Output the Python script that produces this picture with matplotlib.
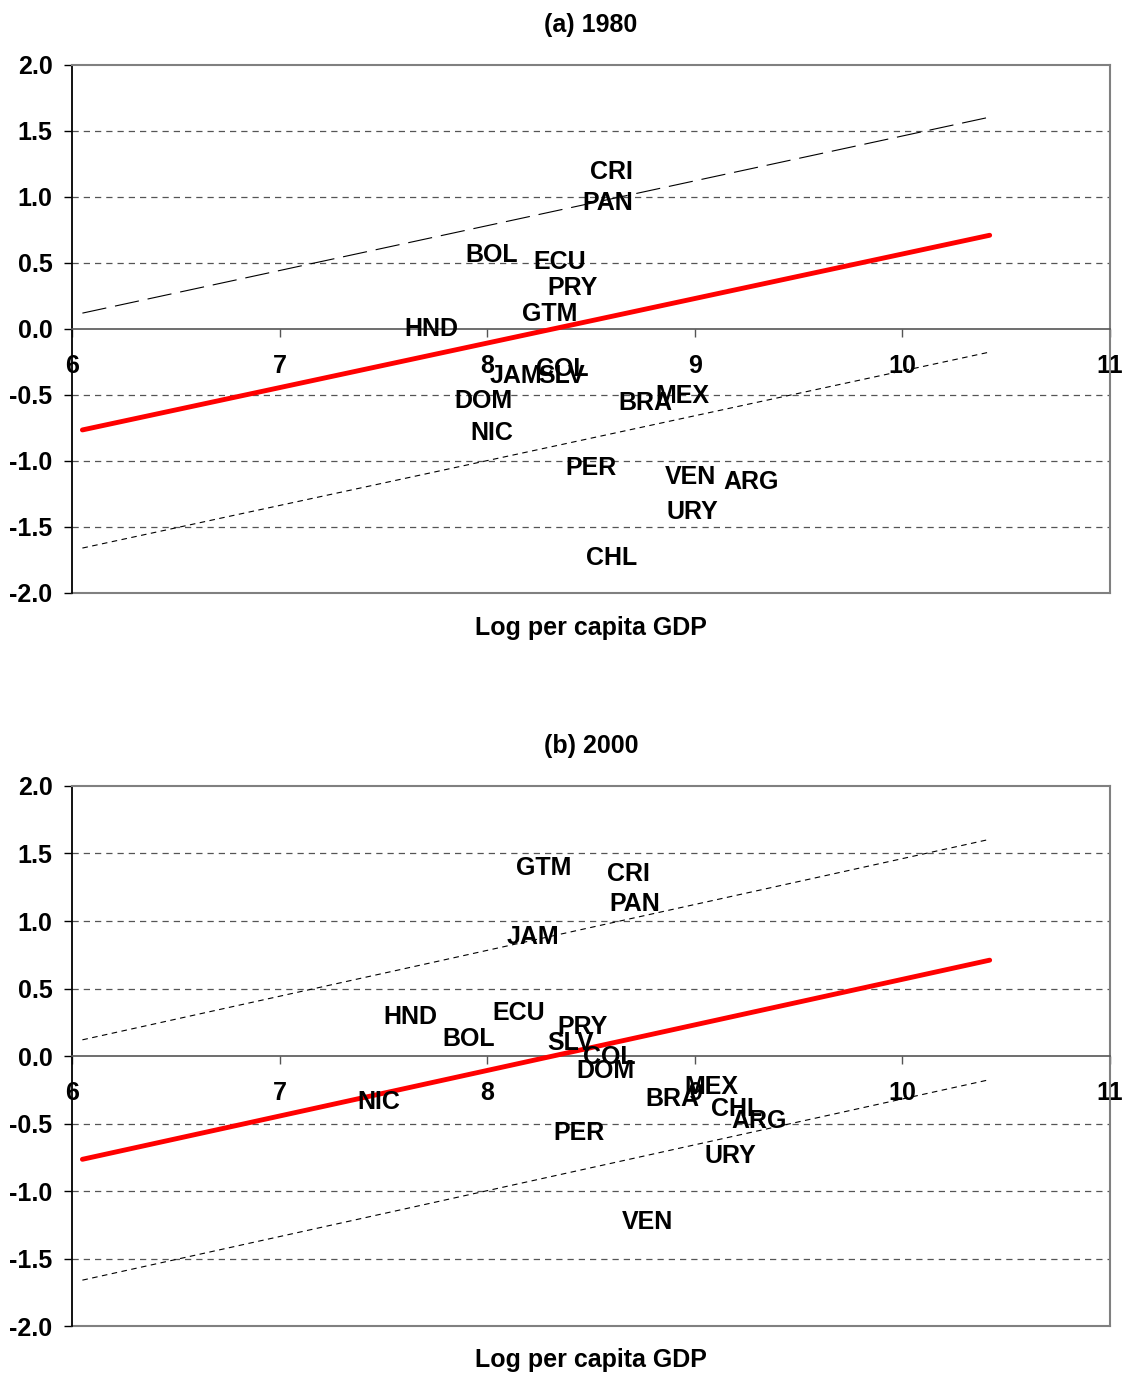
import matplotlib.pyplot as plt
from matplotlib.patches import Rectangle

plt.rcParams['font.family'] = ['Liberation Sans', 'DejaVu Sans']
plt.rcParams['font.weight'] = 'bold'

# Fitted line and bands (same in both panels)
x_fit = [6.05, 10.42]
fit = [-0.765, 0.71]
upper = [0.12, 1.605]
lower = [-1.66, -0.175]

# Panel (a) 1980
codes_1980 = ['CRI', 'PAN', 'BOL', 'ECU', 'PRY', 'GTM', 'HND', 'JAM', 'COL', 'SLV',
              'DOM', 'NIC', 'BRA', 'MEX', 'PER', 'VEN', 'ARG', 'URY', 'CHL']
gdp_1980 = [8.60, 8.58, 8.02, 8.35, 8.41, 8.30, 7.73, 8.14, 8.36, 8.36,
            7.98, 8.02, 8.76, 8.94, 8.50, 8.98, 9.27, 8.99, 8.60]
val_1980 = [1.19, 0.955, 0.56, 0.51, 0.31, 0.11, 0.0, -0.36, -0.30, -0.36,
            -0.545, -0.79, -0.56, -0.51, -1.05, -1.12, -1.16, -1.39, -1.735]

# Panel (b) 2000
codes_2000 = ['GTM', 'CRI', 'PAN', 'JAM', 'HND', 'ECU', 'BOL', 'PRY', 'SLV', 'COL',
              'DOM', 'NIC', 'BRA', 'MEX', 'CHL', 'ARG', 'PER', 'URY', 'VEN']
gdp_2000 = [8.27, 8.68, 8.71, 8.22, 7.63, 8.15, 7.91, 8.46, 8.40, 8.59,
            8.57, 7.48, 8.89, 9.08, 9.20, 9.31, 8.44, 9.17, 8.77]
val_2000 = [1.39, 1.35, 1.125, 0.88, 0.29, 0.32, 0.125, 0.215, 0.10, -0.01,
            -0.11, -0.34, -0.32, -0.23, -0.39, -0.48, -0.57, -0.74, -1.23]

fig = plt.figure(figsize=(11.27, 13.77), dpi=100)
ax_a = fig.add_axes([0.0639, 0.5694, 0.9211, 0.3834])
ax_b = fig.add_axes([0.0639, 0.0370, 0.9211, 0.3922])


def draw_panel(ax, codes, gdp, vals, title, upper_dash):
    ax.set_xlim(6, 11)
    ax.set_ylim(-2, 2)
    ax.set_yticks([-2.0, -1.5, -1.0, -0.5, 0.0, 0.5, 1.0, 1.5, 2.0])
    ax.set_yticklabels([f'{v:.1f}' for v in ax.get_yticks()])
    ax.set_xticks([6, 7, 8, 9, 10, 11])

    # dashed gridlines
    for yv in [-1.5, -1.0, -0.5, 0.5, 1.0, 1.5]:
        ax.axhline(yv, color='#555555', lw=0.9, dashes=(5, 4), zorder=1)

    # frame
    for s in ['top', 'right']:
        ax.spines[s].set_color('#808080')
        ax.spines[s].set_linewidth(1.5)
    ax.spines['left'].set_color('black')
    ax.spines['left'].set_linewidth(1.3)
    ax.spines['bottom'].set_position(('data', 0))
    ax.spines['bottom'].set_color('#555555')
    ax.spines['bottom'].set_linewidth(1.2)
    ax.plot([6, 11], [-2, -2], color='#808080', lw=1.5, clip_on=False, zorder=2)

    ax.tick_params(axis='x', direction='out', length=6, width=1, color='#555555',
                   pad=12, labelsize=18)
    ax.tick_params(axis='y', direction='out', length=6, width=1, color='black',
                   pad=8, labelsize=18)
    for lab in ax.get_xticklabels() + ax.get_yticklabels():
        lab.set_fontweight('bold')

    ax.plot(x_fit, upper, color='black', lw=0.8, dashes=upper_dash, zorder=3)
    ax.plot(x_fit, lower, color='black', lw=0.8, dashes=(5, 4), zorder=3)
    ax.plot(x_fit, fit, color='red', lw=3.5, solid_capstyle='round', zorder=4)

    for c, xv, yv in zip(codes, gdp, vals):
        ax.text(xv, yv, c, ha='center', va='center', fontsize=18,
                fontweight='bold', zorder=5)

    ax.set_title(title, fontsize=18, fontweight='bold', pad=24)
    ax.set_xlabel('Log per capita GDP', fontsize=18, fontweight='bold')


draw_panel(ax_a, codes_1980, gdp_1980, val_1980, '(a) 1980', (22, 8))
draw_panel(ax_b, codes_2000, gdp_2000, val_2000, '(b) 2000', (5, 4))

ax_a.xaxis.set_label_coords(0.5, -0.043)
ax_b.xaxis.set_label_coords(0.5, -0.040)

fig.savefig('out.png', dpi=100)
